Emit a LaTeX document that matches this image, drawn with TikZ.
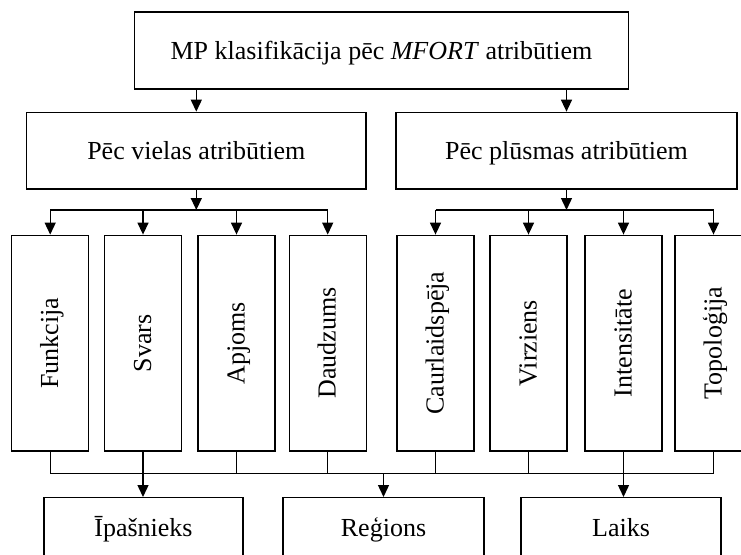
\documentclass[tikz,border=0pt]{standalone}
\usepackage{fontspec}
\setmainfont{Liberation Serif}
\usepackage{graphicx}
\usetikzlibrary{arrows.meta}

% vertical label with a fixed baseline position
\newcommand{\uplabel}[1]{\rotatebox{90}{\raisebox{0pt}[18pt][2pt]{#1}}}

\tikzset{
  box/.style={draw, line width=1.4pt, inner sep=0pt, fill=white,
              font=\fontsize{26}{30}\selectfont, text height=18pt, text depth=1pt},
  tallbox/.style={draw, line width=1.4pt, inner sep=0pt, fill=white,
              minimum width=77pt, minimum height=215.7pt,
              font=\fontsize{26}{30}\selectfont},
  link/.style={line width=1.4pt},
  arr/.style={line width=1.4pt, -{Triangle[length=12pt,width=11pt]}}
}

\begin{document}
\begin{tikzpicture}[x=1pt,y=-1pt]
  \useasboundingbox (0,0) rectangle (741,554);
  \clip (0,0) rectangle (741,554);
  \fill[white] (0,0) rectangle (741,554);

  % root
  \node[box, minimum width=493.6pt, minimum height=77pt] (top) at (381.5,50.5)
    {MP klasifikācija pēc \textit{MFORT} atribūtiem};

  % two attribute groups
  \node[box, minimum width=339.3pt, minimum height=76.7pt] (mat) at (196.3,150.7)
    {Pēc vielas atribūtiem};
  \node[box, minimum width=341pt, minimum height=76.7pt] (flow) at (566.5,150.7)
    {Pēc plūsmas atribūtiem};

  % individual attributes
  \node[tallbox] (fun)   at (50.2,343.15)  {\uplabel{Funkcija}};
  \node[tallbox] (svars) at (143,343.15)   {\uplabel{Svars}};
  \node[tallbox] (apj)   at (236.5,343.15) {\uplabel{Apjoms}};
  \node[tallbox] (daudz) at (327.7,343.15) {\uplabel{Daudzums}};
  \node[tallbox] (caur)  at (435.5,343.15) {\uplabel{Caurlaidspēja}};
  \node[tallbox] (virz)  at (528.5,343.15) {\uplabel{Virziens}};
  \node[tallbox] (int)   at (623.5,343.15) {\uplabel{Intensitāte}};
  \node[tallbox] (topo)  at (713.5,343.15) {\uplabel{Topoloģija}};

  % common dimensions
  \node[box, minimum width=199pt, minimum height=61pt] (own)  at (143.5,528.2) {Īpašnieks};
  \node[box, minimum width=201pt, minimum height=61pt] (reg)  at (383.5,528.2) {Reģions};
  \node[box, minimum width=200pt, minimum height=61pt] (time) at (621,528.2)   {Laiks};

  % root to groups
  \draw[arr] (mat.north |- top.south) -- (mat.north);
  \draw[arr] (flow.north |- top.south) -- (flow.north);

  % group distribution lines
  \coordinate (busL) at (196.3,210);
  \coordinate (busR) at (566.5,210);
  \draw[arr] (mat.south) -- (busL);
  \draw[arr] (flow.south) -- (busR);
  \draw[link] (fun.north |- busL) -- (daudz.north |- busL);
  \draw[link] (caur.north |- busR) -- (topo.north |- busR);
  \foreach \n in {fun,svars,apj,daudz}
    \draw[arr] (\n.north |- busL) -- (\n.north);
  \foreach \n in {caur,virz,int,topo}
    \draw[arr] (\n.north |- busR) -- (\n.north);

  % collector line to the common dimensions
  \coordinate (busB) at (383.5,473.5);
  \foreach \n in {fun,apj,daudz,caur,virz,topo}
    \draw[link] (\n.south) -- (\n.south |- busB);
  \draw[link] (fun.south |- busB) -- (topo.south |- busB);
  \draw[arr] (svars.south) -- (svars.south |- own.north);
  \draw[arr] (busB) -- (reg.north);
  \draw[arr] (int.south) -- (int.south |- time.north);
\end{tikzpicture}
\end{document}
